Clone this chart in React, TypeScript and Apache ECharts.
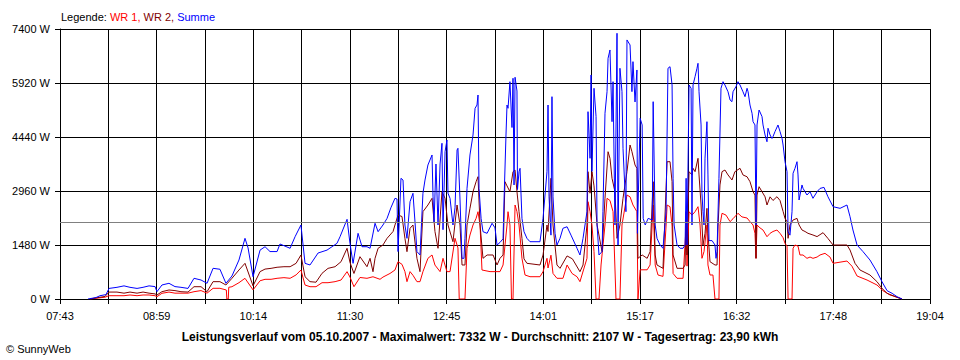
import React, { useEffect, useRef } from 'react';
import * as echarts from 'echarts';

// Time axis: minutes of the day, 07:43 .. 19:04, 18 grid divisions
const START_MIN = 463; // 07:43
const END_MIN = 1144; // 19:04
const GRID_DIVISIONS = 18;
const xTickLabels = ['07:43', '08:59', '10:14', '11:30', '12:45', '14:01', '15:17', '16:32', '17:48', '19:04'];

const Y_MAX = 7400;
const Y_STEP = 1480;
const averageW = 2107;

const titleText =
  'Leistungsverlauf vom 05.10.2007 - Maximalwert: 7332 W - Durchschnitt: 2107 W - Tagesertrag: 23,90 kWh';
const copyrightText = '© SunnyWeb';

// [minute of day, watts]
const summe: [number, number][] = [
  [484.9,0],[491.2,40],[494.3,90],[499,120],[501.4,290],[507.6,320],[513.1,360],[517.8,320],[523.3,290],[528,320],[532.7,360],[537.4,340],[538.9,200],[542.8,384],[548.3,430],[553,340],[557.7,320],[563.2,290],[567.9,567],[573.4,520],[578.1,430],[582.8,841],[588.2,815],[592.9,430],[597.6,630],[603.1,1069],[607.8,1663],[610.2,1400],[614.1,611],[619.6,1340],[623.5,1433],[627.4,1300],[632.9,1300],[635.2,1507],[643.1,1390],[647,1707],[651.6,2028],[654.8,978],[658.7,932],[665,1260],[672,1340],[679.8,1525],[682.2,1707],[687.7,2184],[690,1520],[692.4,978],[696.3,1800],[699.4,1433],[703.3,1433],[705.7,1390],[709.6,2075],[712,1845],[715.8,2028],[719,2210],[722,2500],[725.2,2760],[726.8,2740],[727.6,1300],[729.9,3308],[731.5,3260],[733,2028],[734.6,1663],[737,2667],[739.3,2897],[740.9,2100],[742.4,1300],[744.8,1206],[747.1,2897],[748.7,3260],[751,3673],[754.2,3947],[755,2800],[755.8,2100],[757.3,3700],[758.9,2028],[760.5,3700],[762,4268],[762.8,1900],[764.4,4037],[765.9,4358],[766.7,2900],[768.3,2760],[770.6,2028],[772.2,2500],[773.8,4084],[774.5,4130],[776.1,2740],[777.7,1115],[779.2,1115],[780,1663],[781.6,3034],[783.9,3947],[786.3,4495],[787.9,5227],[789.4,5317],[790.2,5591],[791,3034],[792.6,2210],[794.1,1845],[797.3,1800],[801.2,2075],[803.5,1950],[805.1,1480],[807.4,1550],[809.8,1650],[810.6,2740],[812.1,4495],[812.9,5317],[813.7,5227],[815.2,5956],[816.8,4700],[817.6,6050],[818.4,3125],[819.2,6078],[820.7,5700],[821.1,3000],[822.3,3490],[823.1,3582],[824.6,2210],[826.2,1845],[828.5,1663],[830.9,1570],[838.7,1570],[841.1,2210],[844.2,3490],[845,5317],[845.8,2800],[847.3,1750],[848.1,5545],[848.9,2800],[850.5,1800],[852,1480],[854.4,1663],[856.7,1938],[859.9,1980],[863,1750],[867.7,1390],[870,1206],[872.4,1663],[875.5,2393],[876.3,5134],[877.9,3856],[878.7,6140],[879.4,3500],[881,5775],[882.6,5000],[883.4,2028],[884.9,1206],[887.3,1300],[888,2393],[889.6,5090],[891.2,5683],[892,6597],[893.5,6825],[895.1,4860],[895.9,5956],[897.4,2028],[899,7283],[899.8,1480],[901.3,6323],[902.9,5683],[903.7,4130],[906,2393],[906.8,7100],[909.2,6962],[910.7,5683],[911.5,6505],[913.1,5400],[914.6,6277],[915,1800],[917.1,4952],[918.7,4770],[919.5,2210],[921.1,2028],[923.4,2210],[926.6,2165],[927.3,5408],[928.9,2028],[930.3,1663],[932.7,1480],[935,1390],[937.4,2393],[938.9,6323],[940.5,6367],[942.1,5865],[942.9,3308],[943.7,2028],[946,1480],[948.4,1390],[950.7,1390],[952.3,1480],[953.1,3308],[953.8,1480],[955.4,5865],[957,5775],[957.7,2028],[958.5,5865],[960.1,6093],[961.6,6323],[962.4,6460],[963.2,5680],[964.8,4770],[965.5,2900],[966.3,2400],[967.1,2028],[967.9,3860],[969.4,4860],[970.2,3400],[971,1600],[973.4,1600],[975.7,1480],[976.5,1115],[977.3,1300],[978.8,3308],[980.4,5775],[982,5956],[983.5,5865],[985.9,5680],[987.5,5454],[989,5408],[989.8,5680],[992.1,5820],[993.7,5956],[995.3,5865],[997.6,5680],[999.2,5545],[1000.8,5775],[1001.6,5680],[1003.1,5317],[1004.7,5090],[1005.5,4860],[1007,4770],[1007.8,2028],[1008.6,4770],[1010.2,5180],[1012.5,5000],[1013.3,4770],[1014.9,4495],[1016.4,4310],[1017.2,4680],[1018.8,4495],[1020.3,4400],[1021.1,4450],[1022.7,4590],[1025,4769],[1026.6,4590],[1028.2,4400],[1029,4220],[1030.5,3763],[1032.1,3490],[1032.9,1845],[1034.4,1750],[1036,2393],[1036.8,3445],[1038.3,3580],[1039.9,3763],[1040.7,3400],[1041.5,2713],[1043.8,3125],[1044.6,3034],[1047.7,2850],[1050.1,2940],[1052.4,2760],[1055.6,2940],[1057.9,3030],[1061,3060],[1064.1,2804],[1068.1,2530],[1073.6,2485],[1079,2576],[1081.4,2256],[1083.7,1891],[1086.9,1480],[1091.6,1297],[1097,1069],[1102.5,748],[1106.4,475],[1110.4,228],[1114.3,156],[1118.2,63],[1122.1,0]
];

const wr2: [number, number][] = [
  [486.5,0],[491.2,30],[498.2,70],[501.4,190],[507.6,190],[513.1,160],[517.8,190],[523.3,160],[528,190],[532.7,160],[537.4,140],[538.9,110],[542.8,200],[548.3,247],[553,230],[557.7,200],[563.2,190],[567.9,337],[573.4,337],[578.1,200],[582.8,475],[588.2,475],[592.9,384],[597.6,567],[603.1,795],[607.8,978],[614.1,360],[619.6,750],[623.5,820],[628.2,840],[632.9,870],[638.3,885],[643.1,885],[647.8,978],[651.6,1206],[654.8,611],[658.7,475],[663.4,460],[668.1,704],[672.8,840],[678.3,885],[683,1023],[687.7,1390],[690,1000],[693.1,700],[697.8,1160],[703.3,885],[705.7,1115],[708,748],[709.6,1115],[712,1390],[715.8,1480],[719,1663],[723.7,1850],[725.2,2028],[727.6,2302],[730.7,2260],[733,1663],[734.6,1297],[737,1938],[739.3,2028],[742.4,1115],[744.8,748],[747.1,2393],[751,2576],[754.2,2760],[756.5,1850],[758.9,1390],[762,2941],[764.4,2760],[766.7,2028],[770.6,1570],[773.8,2576],[776.1,2028],[777.7,932],[780,932],[781.6,2028],[783.9,2485],[786.3,2941],[788.7,3215],[790.2,3352],[791.8,2028],[794.1,1115],[797.3,1206],[802,1206],[805.1,932],[807.4,1115],[809.8,1206],[811.3,3215],[812.9,3100],[815.2,2941],[817.6,3489],[819.2,3535],[820.7,2941],[822.3,2393],[824.6,1663],[826.2,1100],[828.5,978],[838.7,932],[841.1,1206],[844.2,2028],[845,1850],[847.3,3308],[848.9,2028],[852,932],[854.4,841],[859.9,1180],[864.1,1100],[870,748],[872.4,932],[875.5,2028],[876.3,3489],[877.9,2900],[879.4,3489],[881,3100],[883.4,2028],[887.3,1297],[889.6,2760],[892,4037],[893.5,3856],[895.1,3308],[897.4,2941],[899,1663],[901.3,2028],[903.7,2760],[906.8,3489],[909.2,4221],[910.7,4037],[913.1,3673],[914.6,3580],[915.4,1115],[918.7,1206],[922.6,1115],[924.9,1297],[927.3,3215],[928.9,1206],[930.3,932],[935,841],[938.2,3763],[940.5,3763],[942.1,3215],[942.9,1206],[946,841],[950.7,841],[952.3,932],[953.1,2393],[953.8,1206],[955.4,3490],[957.7,3400],[958.5,3582],[960.1,3490],[962.4,3856],[963.2,3400],[964.8,2576],[966.3,1480],[967.9,1800],[969.4,2485],[970.2,1800],[971.8,1023],[975.7,932],[977.3,932],[978.1,2000],[979.6,3125],[981.2,3490],[983.5,3535],[985.9,3400],[989,3262],[991.3,3490],[995.3,3582],[997.6,3400],[1000.8,3350],[1003.1,3215],[1005.5,2941],[1007,2850],[1007.8,1115],[1008.6,2850],[1010.2,3078],[1012.5,2941],[1014.9,2800],[1016.4,2576],[1018.8,2800],[1021.1,2700],[1024.2,2804],[1026.6,2700],[1029,2400],[1030.5,2210],[1032.1,2120],[1032.9,1663],[1034.4,2030],[1036.8,2165],[1039.9,2210],[1041.5,2030],[1043.8,1891],[1046.2,1850],[1048.5,1800],[1052.4,1754],[1055.6,1710],[1060.3,1818],[1064.1,1660],[1068.1,1480],[1079,1480],[1081.4,1343],[1085.3,978],[1089.2,795],[1097,658],[1102.5,475],[1106.4,293],[1110.4,156],[1118.2,46],[1122.1,0]
];

const wr1: [number, number][] = [
  [486.5,0],[491.2,20],[498.2,50],[501.4,90],[507.6,90],[513.1,90],[517.8,110],[523.3,90],[528,110],[532.7,110],[537.4,90],[538.9,63],[542.8,156],[548.3,190],[553,160],[557.7,160],[563.2,160],[567.9,200],[573.4,230],[578.1,160],[582.8,293],[588.2,293],[593.2,247],[593.6,0],[594.7,0],[595.1,320],[597.6,337],[603.1,447],[607.8,567],[614.1,250],[619.6,500],[623.5,540],[628.2,540],[632.9,567],[638.3,585],[643.1,567],[647.8,660],[651.6,795],[654.8,384],[658.7,337],[663.4,337],[668.1,447],[672.8,447],[678.3,475],[683,520],[687.7,750],[690,600],[693.1,337],[697.8,590],[703.3,567],[708,610],[713.5,540],[715.8,600],[721.3,700],[725.2,795],[727.6,1023],[730.7,950],[733,750],[734.6,475],[737,750],[739.3,650],[742.4,475],[744.8,475],[747.1,750],[751,1115],[754.2,1206],[756.5,930],[760.5,750],[762.8,1115],[765.9,750],[768.3,750],[772.2,1663],[774.5,1400],[775.5,0],[780,0],[781.6,1390],[783.9,1754],[786.3,2028],[788.7,2210],[790.2,2393],[791.8,2028],[793.3,795],[799.6,750],[805.1,750],[807.4,750],[809.8,932],[812.9,2028],[813.7,2393],[815.2,2028],[816.4,0],[817.6,0],[819.2,2576],[820.7,2393],[822.3,2028],[824.6,1115],[827,658],[830.9,611],[838.7,611],[841.1,750],[844.2,1115],[845,850],[847.3,1200],[848.9,700],[852,567],[856.7,567],[859.9,932],[863.8,700],[867.7,610],[870,475],[875.5,1115],[876.3,2667],[877.9,2393],[879.4,2028],[881,1300],[882.6,0],[884.9,0],[886.5,932],[889.6,2028],[891.2,2760],[893.5,2700],[895.9,2393],[898.2,0],[901.3,0],[902.9,2028],[906.8,2850],[909.2,2800],[911.5,2576],[914.6,2393],[915.4,0],[917.1,800],[922.6,800],[924.9,932],[927.3,2576],[928.9,932],[931.1,658],[935,620],[937.4,2000],[938.2,2576],[940.5,2530],[942.1,2000],[942.9,700],[946,567],[950.7,567],[953.1,2000],[953.8,900],[955.4,2393],[957.7,2300],[960.1,2393],[962.4,2530],[964,2028],[965.5,1115],[967.1,1300],[969.4,2028],[970.2,932],[971.8,658],[974.1,658],[975.7,0],[978.8,0],[979.6,2028],[981.2,2349],[984.3,2300],[987.5,2120],[989.8,2200],[993.7,2349],[996.8,2250],[1000.8,2220],[1003.1,2120],[1005.5,2028],[1007,1800],[1007.8,1115],[1008.6,2028],[1010.9,1950],[1013.3,1890],[1016.4,1707],[1018.8,1800],[1021.1,1850],[1024.2,1891],[1026.6,1800],[1029,1680],[1030.5,1525],[1032.1,1450],[1032.9,0],[1036,0],[1036.8,1390],[1038.3,1480],[1040.7,1450],[1042.2,1206],[1044.6,1206],[1047.7,1115],[1050.1,1150],[1052.4,1115],[1055.6,1150],[1057.9,1206],[1061.8,1252],[1065.7,1150],[1068.1,978],[1079,1041],[1082.9,900],[1086.9,630],[1094.7,520],[1102.5,384],[1107.2,228],[1112.7,110],[1118.2,50],[1122.1,0]
];

const FONT = '"Liberation Sans", Arial, sans-serif';

const toSeconds = (pts: [number, number][]) =>
  pts.map(([m, w]) => [Math.round((m - START_MIN) * 60), w]);

export default function App() {
  const ref = useRef<HTMLDivElement>(null);

  useEffect(() => {
    if (!ref.current) return;
    const chart = echarts.init(ref.current, undefined, { renderer: 'svg' });
    const span = (END_MIN - START_MIN) * 60;
    const interval = span / GRID_DIVISIONS;

    const lineSeries = (name: string, data: [number, number][], color: string, z: number, extra: any = {}) => ({
      name,
      type: 'line',
      data: toSeconds(data),
      showSymbol: false,
      symbol: 'none',
      lineStyle: { color, width: 1 },
      itemStyle: { color },
      emphasis: { disabled: true },
      silent: true,
      z,
      ...extra,
    });

    chart.setOption({
      animation: false,
      textStyle: { fontFamily: FONT },
      grid: { left: 60, right: 30, top: 29, bottom: 61, containLabel: false },
      xAxis: {
        type: 'value',
        min: 0,
        max: span,
        interval,
        axisLine: { show: true, lineStyle: { color: '#000', width: 1 } },
        axisTick: { show: true, length: 5, lineStyle: { color: '#000' } },
        splitLine: { show: true, lineStyle: { color: '#000', width: 1 } },
        axisLabel: {
          color: '#000',
          fontSize: 11,
          fontFamily: FONT,
          margin: 11,
          showMinLabel: true,
          showMaxLabel: true,
          formatter: (v: number) => {
            const k = Math.round(v / interval);
            return k % 2 === 0 ? xTickLabels[k / 2] ?? '' : '';
          },
        },
      },
      yAxis: {
        type: 'value',
        min: 0,
        max: Y_MAX,
        interval: Y_STEP,
        axisLine: { show: true, lineStyle: { color: '#000', width: 1 } },
        axisTick: { show: true, length: 5, lineStyle: { color: '#000' } },
        splitLine: { show: true, lineStyle: { color: '#000', width: 1 } },
        axisLabel: {
          color: '#000',
          fontSize: 11,
          fontFamily: FONT,
          margin: 10,
          formatter: (v: number) => `${v} W`,
        },
      },
      series: [
        lineSeries('WR 1', wr1, '#ff0000', 2),
        lineSeries('WR 2', wr2, '#800000', 3),
        lineSeries('Summe', summe, '#0000ff', 4, {
          markLine: {
            silent: true,
            symbol: ['none', 'none'],
            label: { show: false },
            lineStyle: { color: '#808080', width: 1, type: 'solid' },
            emphasis: { disabled: true },
            data: [{ yAxis: averageW }],
            z: 10,
          },
        }),
      ],
      graphic: [
        {
          type: 'text',
          x: 61,
          y: 17,
          style: {
            text: '{k|Legende: }{a|WR 1, }{b|WR 2, }{c|Summe}',
            font: `11px ${FONT}`,
            verticalAlign: 'middle',
            rich: {
              k: { fill: '#000000', font: `11px ${FONT}` },
              a: { fill: '#ff0000', font: `11px ${FONT}` },
              b: { fill: '#800000', font: `11px ${FONT}` },
              c: { fill: '#0000ff', font: `11px ${FONT}` },
            },
          },
        },
        {
          type: 'text',
          x: 480,
          y: 337,
          style: {
            text: titleText,
            font: `bold 12px ${FONT}`,
            fill: '#000',
            align: 'center',
            verticalAlign: 'middle',
          },
        },
        {
          type: 'text',
          x: 6,
          y: 349,
          style: {
            text: copyrightText,
            font: `11px ${FONT}`,
            fill: '#000',
            verticalAlign: 'middle',
          },
        },
      ],
    });

    return () => chart.dispose();
  }, []);

  return (
    <div
      ref={ref}
      style={{ position: 'absolute', left: 0, top: 0, width: 960, height: 360, background: '#fff' }}
    />
  );
}
